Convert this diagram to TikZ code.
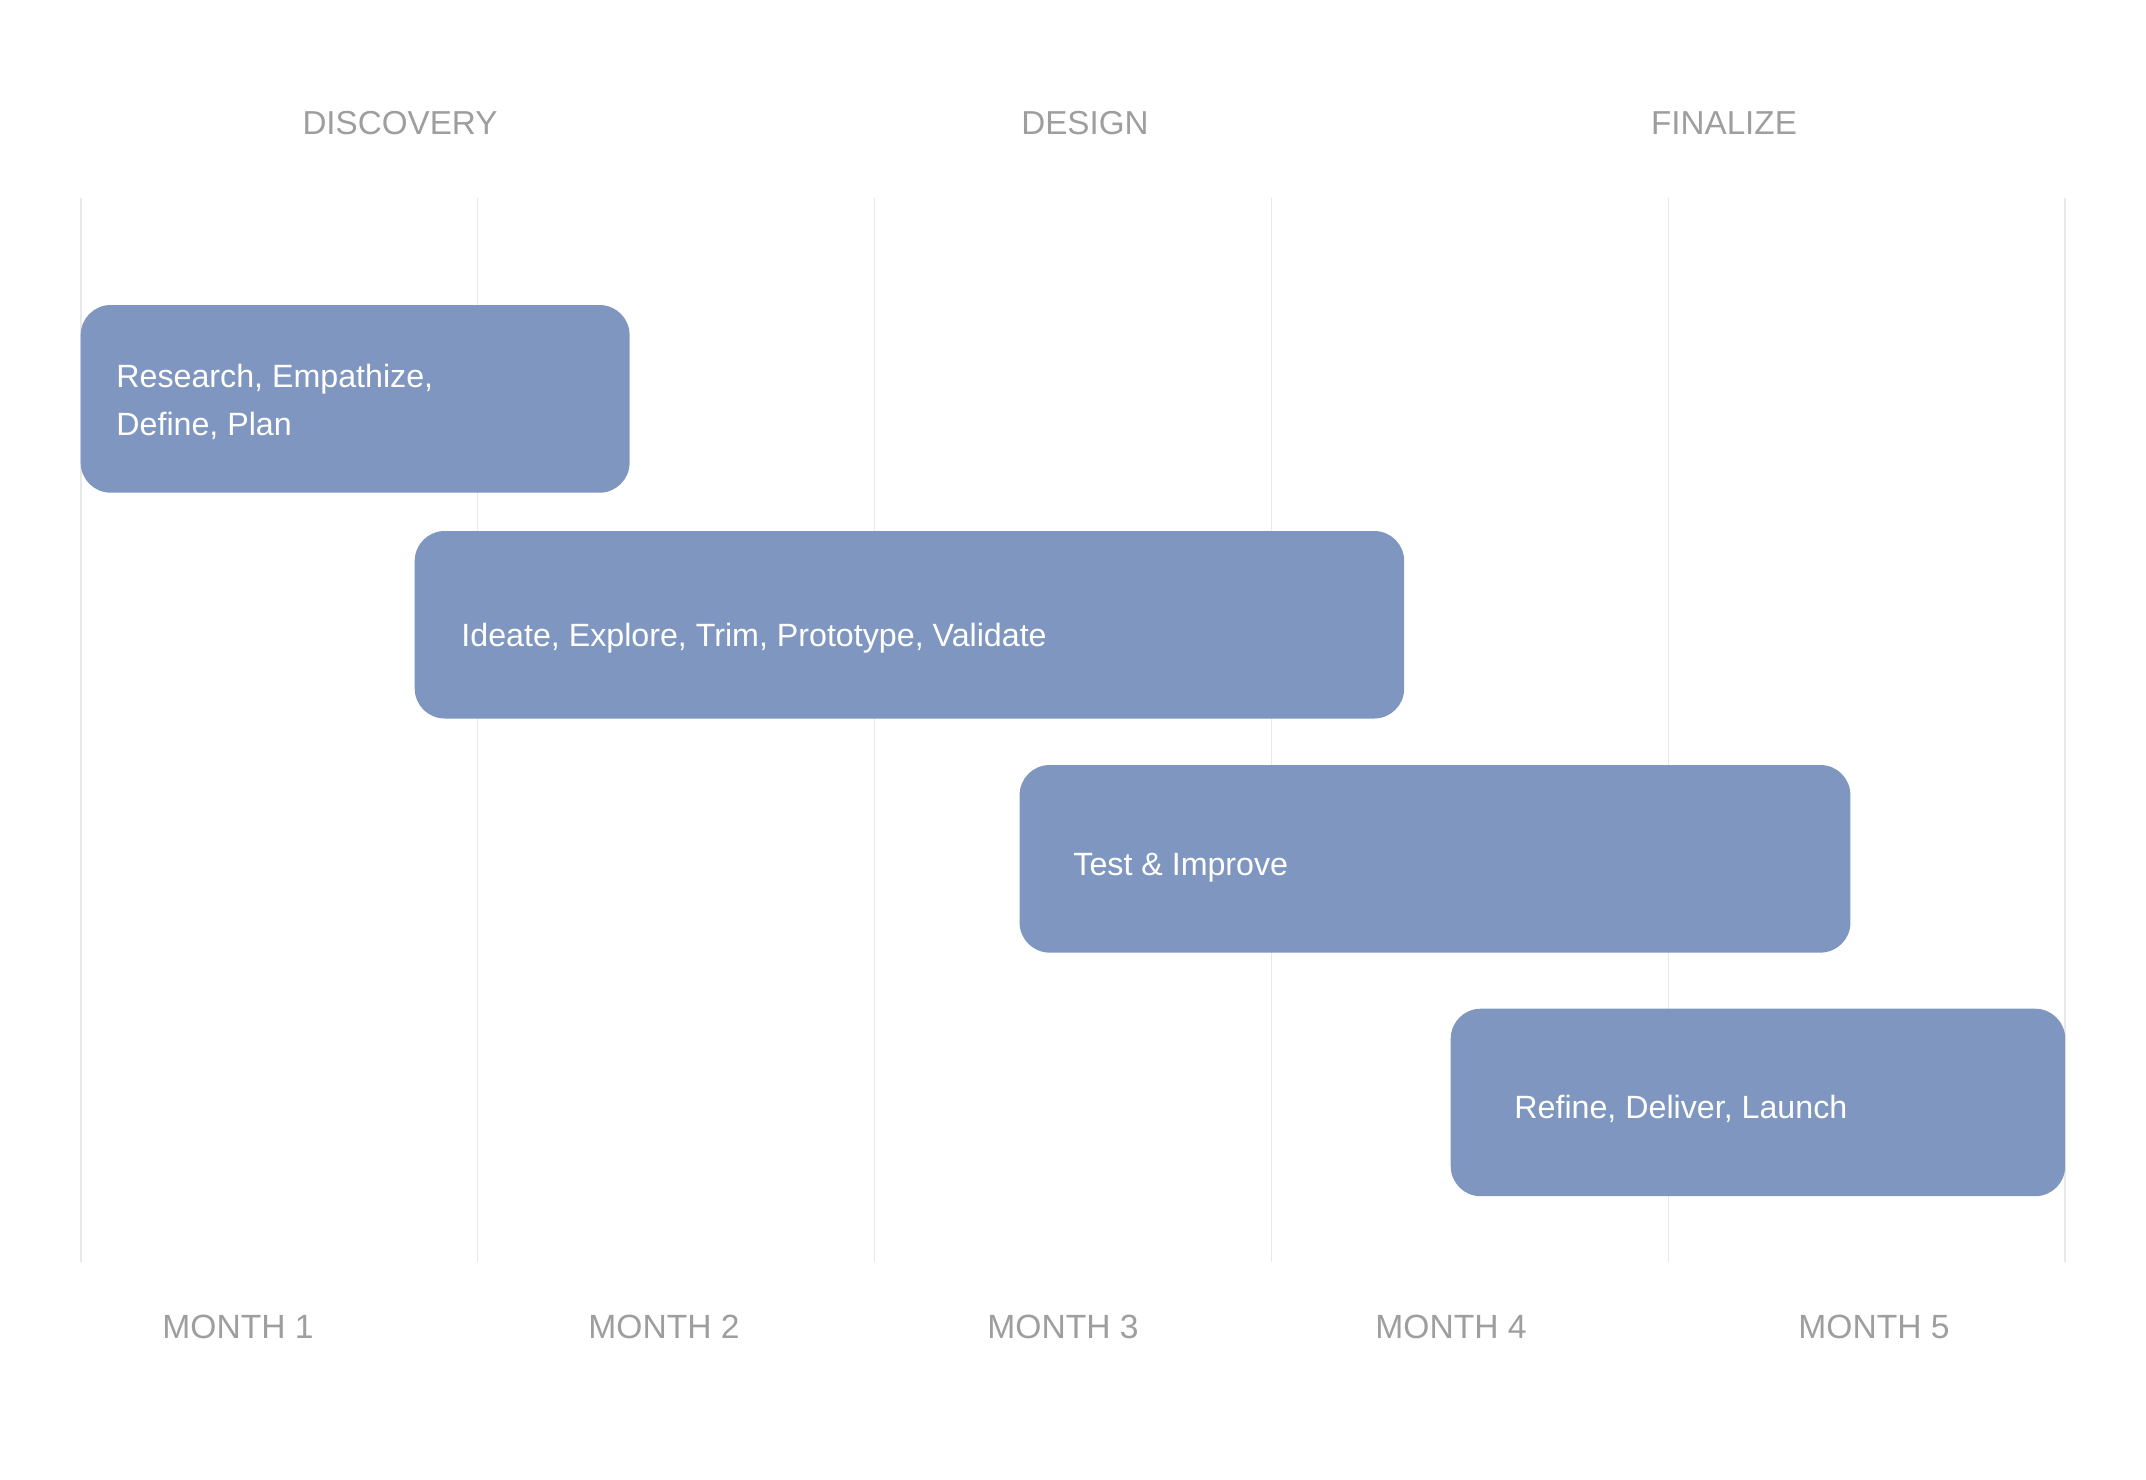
\documentclass[tikz,border=0pt]{standalone}
\usepackage{fontspec}
\setmainfont{Liberation Sans}
\definecolor{barfill}{HTML}{7F97C0}
\definecolor{labgrey}{HTML}{9E9E9E}
\definecolor{gridgrey}{HTML}{E8E8E8}
\begin{document}
\begin{tikzpicture}[x=0.5pt,y=-0.5pt,
  gridline/.style={draw=gridgrey,line width=0.8pt},
  phase/.style={text=labgrey,font=\fontsize{16.6}{20}\selectfont,inner sep=0pt},
  month/.style={text=labgrey,font=\fontsize{16.8}{20}\selectfont,inner sep=0pt},
  bar/.style={fill=barfill,rounded corners=15pt},
  bartext/.style={text=white,font=\fontsize{16.1}{24}\selectfont,anchor=base west,inner sep=0pt}]
\useasboundingbox (0,0) rectangle (2146,1479);
\fill[white] (0,0) rectangle (2146,1479);
% grid
\foreach \i/\x in {0/80.7,1/477.6,2/874.5,3/1271.4,4/1668.3,5/2065}{
  \draw[gridline] (\x,198) coordinate (g\i top) -- (\x,1262) coordinate (g\i bot);
}
% phases
\node[phase] (p1) at (400,123) {DISCOVERY};
\node[phase] (p2) at (1085,123) {DESIGN};
\node[phase] (p3) at (1724,123) {FINALIZE};
% months
\node[month] (m1) at (238,1327) {MONTH 1};
\node[month] (m2) at (664,1327) {MONTH 2};
\node[month] (m3) at (1063,1327) {MONTH 3};
\node[month] (m4) at (1451,1327) {MONTH 4};
\node[month] (m5) at (1874,1327) {MONTH 5};
% bars
\fill[bar] (80.7,305) rectangle (629.6,492.7);
\node[bartext] (t1a) at (116,387) {Research, Empathize,};
\node[bartext] (t1b) at (116,435) {Define, Plan};
\fill[bar] (414.7,531) rectangle (1404.2,718.5);
\node[bartext] (t2) at (461,646) {Ideate, Explore, Trim, Prototype, Validate};
\fill[bar] (1019.6,765) rectangle (1850.4,952.6);
\node[bartext] (t3) at (1073,875) {Test \& Improve};
\fill[bar] (1450.7,1008.7) rectangle (2065.2,1196.2);
\node[bartext] (t4) at (1514,1118) {Refine, Deliver, Launch};
\end{tikzpicture}
\end{document}
